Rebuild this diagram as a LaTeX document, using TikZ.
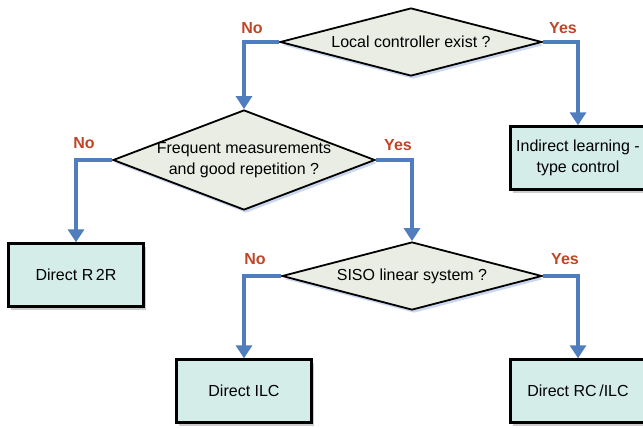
\documentclass[tikz,border=0pt]{standalone}
\usepackage{fontspec}
\setmainfont{Liberation Sans}
\usetikzlibrary{shapes.geometric,arrows.meta,shadows}
\definecolor{arrowblue}{RGB}{79,125,190}
\definecolor{labred}{RGB}{192,70,40}
\definecolor{dfill}{RGB}{234,237,228}
\definecolor{bfill}{RGB}{212,237,232}
\definecolor{dshadow}{RGB}{190,205,235}
\tikzset{
  dec/.style={shape=diamond, draw=black, line width=1.8pt, fill=dfill, inner sep=0pt,
    drop shadow={fill=dshadow, opacity=0.8, shadow xshift=2pt, shadow yshift=-3pt}},
  dtext/.style={font=\fontsize{16}{21}\selectfont, align=center, inner sep=0pt},
  term/.style={rectangle, draw=black, line width=2.4pt, fill=bfill, minimum width=135pt,
    minimum height=63pt, font=\fontsize{16}{21}\selectfont, align=center,
    drop shadow={fill=black!40, opacity=0.5, shadow xshift=2pt, shadow yshift=-3pt}},
  flow/.style={draw=arrowblue, line width=4.5pt, -{Triangle[width=16pt,length=13pt]}},
  ans/.style={text=labred, font=\fontsize{16}{20}\selectfont\bfseries, inner sep=0pt}
}
\begin{document}
\begin{tikzpicture}[x=1pt,y=-1pt]
\useasboundingbox (0,0) rectangle (643,428);
\node[dec, minimum width=262pt, minimum height=68pt] (d1) at (411,42) {};
\node[dtext] (t1) at (d1.center) {Local controller exist ?};
\node[dec, minimum width=262pt, minimum height=100pt] (d2) at (244,160) {};
\node[dtext] (t2) at (d2.center) {Frequent measurements\\and good repetition ?};
\node[dec, minimum width=260pt, minimum height=68pt] (d3) at (412,276) {};
\node[dtext] (t3) at (d3.center) {SISO linear system ?};
\node[term] (ind) at (578,158) {Indirect learning -\\type control};
\node[term] (r2r) at (76,275) {Direct R\,2R};
\node[term] (ilc) at (244,391) {Direct ILC};
\node[term] (rc) at (578,391) {Direct RC\,/ILC};
\draw[flow] (d1.west) -| (d2.north);
\draw[flow] (d1.east) -| (ind.north);
\draw[flow] (d2.west) -| (r2r.north);
\draw[flow] (d2.east) -| (d3.north);
\draw[flow] (d3.west) -| (ilc.north);
\draw[flow] (d3.east) -| (rc.north);
\node[ans] (n1) at (252,28) {No};
\node[ans] (y1) at (563,28) {Yes};
\node[ans] (n2) at (84,143) {No};
\node[ans] (y2) at (398,145) {Yes};
\node[ans] (n3) at (255,259) {No};
\node[ans] (y3) at (565,259) {Yes};
\end{tikzpicture}
\end{document}
